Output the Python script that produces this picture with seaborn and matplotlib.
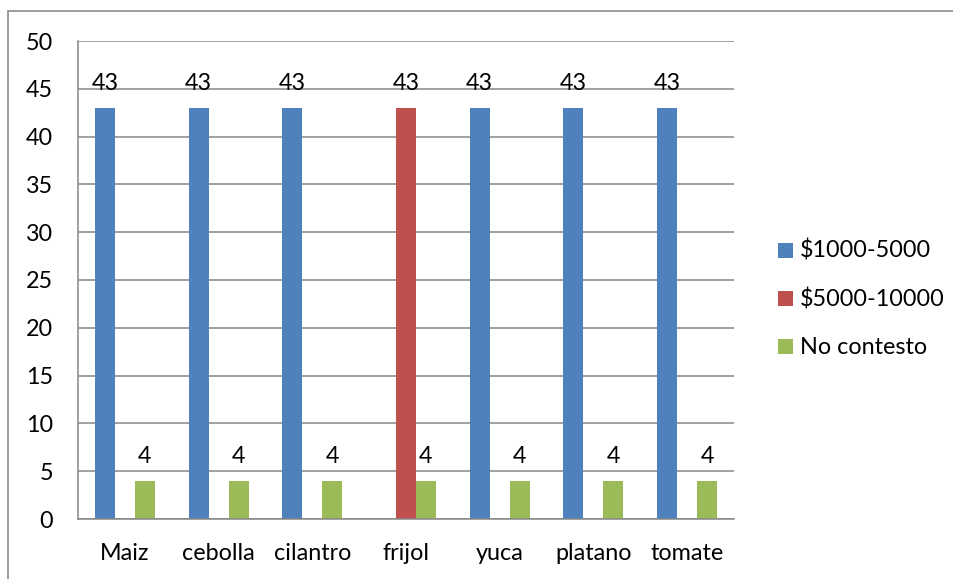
import matplotlib
matplotlib.use("Agg")
import matplotlib.pyplot as plt
from matplotlib.lines import Line2D
import numpy as np
import pandas as pd
import seaborn as sns

# Crops and price ranges
cultivos = ["Maiz", "cebolla", "cilantro", "frijol", "yuca", "platano", "tomate"]
rangos = ["$1000-5000", "$5000-10000", "No contesto"]

# Number of answers per crop for each price range (None = no answers)
v_1000_5000 = [43, 43, 43, None, 43, 43, 43]
v_5000_10000 = [None, None, None, 43, None, None, None]
v_no_contesto = [4, 4, 4, 4, 4, 4, 4]

colores = ["#4F81BD", "#C0504D", "#9BBB59"]
y_ticks = list(range(0, 51, 5))

rows = []
for rango, valores in zip(rangos, [v_1000_5000, v_5000_10000, v_no_contesto]):
    for cultivo, v in zip(cultivos, valores):
        if v is not None:
            rows.append({"cultivo": cultivo, "rango": rango, "valor": v})
df = pd.DataFrame(rows)

sns.set_theme(style="white")
plt.rcParams["font.family"] = ["Lato", "DejaVu Sans"]
plt.rcParams["text.color"] = "black"
FS = 16.8

W, H = 954, 579
fig = plt.figure(figsize=(W / 100, H / 100), dpi=100)
ax = fig.add_axes([78 / W, 1 - 519 / H, (734 - 78) / W, (519 - 41) / H])

sns.barplot(
    data=df, x="cultivo", y="valor", hue="rango",
    order=cultivos, hue_order=rangos, palette=colores,
    width=0.64, saturation=1, errorbar=None, linewidth=0,
    legend=False, ax=ax,
)

for cont in ax.containers:
    ax.bar_label(cont, fmt="%g", padding=10, fontsize=FS, color="black")

grid_c = "#868686"
ax.set_ylim(0, 50)
ax.set_xlim(-0.5, len(cultivos) - 0.5)
ax.set_yticks(y_ticks)
ax.set_yticklabels([str(t) for t in y_ticks])
ax.yaxis.grid(True, color=grid_c, linewidth=1.1)
ax.xaxis.grid(False)
ax.set_axisbelow(True)
ax.set_xlabel("")
ax.set_ylabel("")
for side in ["top", "right"]:
    ax.spines[side].set_visible(False)
for side in ["left", "bottom"]:
    ax.spines[side].set_color(grid_c)
    ax.spines[side].set_linewidth(1.1)
ax.tick_params(axis="y", length=0, pad=18, labelsize=FS, labelcolor="black")
ax.tick_params(axis="x", length=0, pad=17, labelsize=FS, labelcolor="black")

handles = [Line2D([], [], marker="s", linestyle="", markersize=10.8,
                  markerfacecolor=c, markeredgewidth=0) for c in colores]
fig.legend(handles, rangos, loc="center left",
           bbox_to_anchor=(777 / W, 1 - 299 / H), frameon=False,
           fontsize=FS, handlelength=0.67, handletextpad=0.3,
           labelspacing=1.15, borderpad=0, borderaxespad=0)

# Chart area frame (left and top edges)
border_c = "#8C8C8C"
fig.add_artist(Line2D([8.5 / W, 8.5 / W], [0, 1 - 11 / H],
                      transform=fig.transFigure, color=border_c, linewidth=1.2))
fig.add_artist(Line2D([8.5 / W, 1], [1 - 11 / H, 1 - 11 / H],
                      transform=fig.transFigure, color=border_c, linewidth=1.2))

fig.savefig("out.png", dpi=100, facecolor="white")
